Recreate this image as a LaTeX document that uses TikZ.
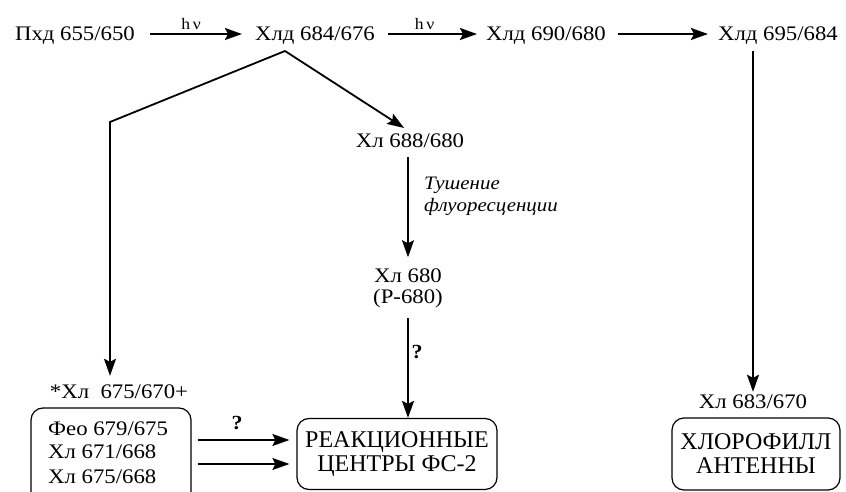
\documentclass[tikz,border=0pt]{standalone}
\usepackage{fontspec}
\setmainfont{Liberation Serif}[FakeStretch=1.1]
\newfontfamily\boxfont{Liberation Serif}
\usetikzlibrary{arrows.meta}
\begin{document}
\begin{tikzpicture}[x=1pt,y=-1pt,
  lbl/.style={font=\fontsize{20.7}{24}\selectfont, inner sep=2pt, text height=14pt, text depth=0pt},
  two/.style={font=\fontsize{20.7}{21}\selectfont, inner sep=2pt, align=center},
  hv/.style={font=\fontsize{16}{18}\selectfont, inner sep=1pt},
  qm/.style={font=\fontsize{20}{22}\selectfont\bfseries, inner sep=1pt},
  note/.style={font=\fontsize{19}{21}\selectfont\itshape, inner sep=0pt, align=left},
  bigbox/.style={draw, line width=1.2pt, rounded corners=12pt, align=center,
    font=\boxfont\fontsize{24}{24}\selectfont},
  arr/.style={line width=1.8pt, line join=miter, -{Stealth[length=17pt,width=12pt,inset=3pt]}}]
\useasboundingbox (0,0) rectangle (846,492);
\clip (0,0) rectangle (846,492);

% top row
\node[lbl] (n1) at (75,34) {Пхд 655/650};
\node[lbl] (n2) at (315,34) {Хлд 684/676};
\node[lbl] (n3) at (546,34) {Хлд 690/680};
\node[lbl] (n4) at (778,34) {Хлд 695/684};

\draw[arr, shorten <=13pt, shorten >=11pt] (n1) -- node[hv, above=2pt, xshift=-4pt] {h\,ν} (n2);
\draw[arr, shorten <=11pt, shorten >=7pt] (n2) -- node[hv, above=2pt, xshift=-6pt] {h\,ν} (n3);
\draw[arr, shorten <=10pt, shorten >=8pt] (n3) -- (n4);

% middle column
\node[lbl] (m1) at (410,141) {Хл 688/680};
\node[two] (m2) at (408,288) {Хл 680\\(Р-680)};
\node[note, anchor=base west] (tq) at (424,211) {Тушение\\флуоресценции};

% left column
\node[lbl] (star) at (119,391) {*Хл\ \ 675/670+};
\node[draw, line width=1.2pt, rounded corners=12pt, minimum width=160pt, minimum height=96pt] (lbox) at (111,456) {};
\node[lbl, anchor=west] (l1) at (46,428) {Фео 679/675};
\node[lbl, anchor=west] (l2) at (46,451) {Хл 671/668};
\node[lbl, anchor=west] (l3) at (46,476) {Хл 675/668};

% boxes
\node[bigbox, minimum width=200pt, minimum height=71pt] (rc) at (397,454) {РЕАКЦИОННЫЕ\\ЦЕНТРЫ ФС-2};
\node[lbl] (ant) at (753,401) {Хл 683/670};
\node[bigbox, minimum width=168pt, minimum height=72pt] (an) at (756,454) {ХЛОРОФИЛЛ\\АНТЕННЫ};

% branching from Хлд 684/676
\coordinate (apex) at (285,51);
\coordinate (lc) at (110,122);
\draw[arr, shorten >=6pt] (apex) -- (lc) -- (lc |- star.north);
\draw[arr, shorten >=7pt] (apex) -- (m1.north);

% middle vertical arrows
\draw[arr, shorten <=7pt, shorten >=9pt] (m1.south -| m2.north) -- (m2.north);
\draw[arr, shorten <=8pt] (m2.south) -- (m2.south |- rc.north);
\node[qm] (q1) at (417,352) {?};

% right vertical arrow
\draw[arr, shorten <=8pt] (n4.south -| ant) -- (ant.north);

% double arrows
\draw[arr, shorten <=6pt, shorten >=7pt] ([yshift=16pt]lbox.east) -- ([yshift=16pt]lbox.east -| rc.west);
\draw[arr, shorten <=6pt, shorten >=7pt] ([yshift=-8pt]lbox.east) -- ([yshift=-8pt]lbox.east -| rc.west);
\node[qm] (q2) at (237,423) {?};
\end{tikzpicture}
\end{document}
